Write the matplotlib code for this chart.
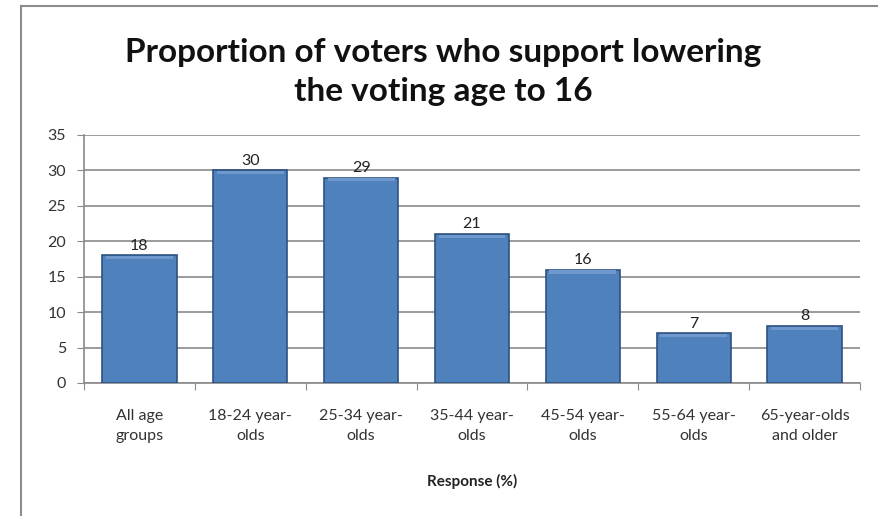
import matplotlib.pyplot as plt
from matplotlib.lines import Line2D

CATEGORIES = [
    "All age\ngroups",
    "18-24 year-\nolds",
    "25-34 year-\nolds",
    "35-44 year-\nolds",
    "45-54 year-\nolds",
    "55-64 year-\nolds",
    "65-year-olds\nand older",
]
VALUES = [18, 30, 29, 21, 16, 7, 8]
Y_TICKS = [0, 5, 10, 15, 20, 25, 30, 35]

TITLE = "Proportion of voters who support lowering\nthe voting age to 16"
XLABEL = "Response (%)"

plt.rcParams["font.family"] = ["Lato", "DejaVu Sans"]

W, H = 879, 516
fig = plt.figure(figsize=(W / 100, H / 100), dpi=100)
fig.patch.set_facecolor("white")

# chart border (left and top only visible)
fig.add_artist(Line2D([21 / W, 21 / W], [0, 1 - 6 / H], color="#8c8c8c", lw=1.5))
fig.add_artist(Line2D([21 / W, 1], [1 - 6 / H, 1 - 6 / H], color="#8c8c8c", lw=1.5))

ax = fig.add_axes([84 / W, 1 - 383 / H, (860 - 84) / W, (383 - 135) / H])

x = range(len(VALUES))
bars = ax.bar(x, VALUES, width=0.67, color="#4F81BD", edgecolor="#2d5182",
              linewidth=1.2, zorder=3)
# lighter bevel on top of each bar
for b in bars:
    ax.bar(b.get_x() + b.get_width() / 2, 0.45, bottom=b.get_height() - 0.55,
           width=b.get_width() * 0.9, color="#6f98cc", linewidth=0, zorder=4)

for xi, v in zip(x, VALUES):
    ax.text(xi, v + 0.4, str(v), ha="center", va="bottom", fontsize=11.5,
            color="#222222")

ax.set_xlim(-0.5, len(VALUES) - 0.5)
ax.set_ylim(0, 35)
ax.set_yticks(Y_TICKS)
ax.yaxis.grid(True, color="#8a8a8a", lw=1.2, zorder=0)
ax.set_axisbelow(True)

ax.set_xticks([i - 0.5 for i in range(len(VALUES) + 1)])
ax.set_xticklabels([])
ax.set_xticks(list(x), minor=True)
ax.set_xticklabels(CATEGORIES, minor=True, fontsize=11.5, color="#333333",
                   linespacing=1.55)
ax.tick_params(axis="x", which="minor", length=0, pad=19)
ax.tick_params(axis="x", which="major", length=5, color="#8a8a8a")
ax.tick_params(axis="y", length=5, color="#8a8a8a", labelsize=11.5,
               labelcolor="#333333", pad=8)

for s in ["top", "right"]:
    ax.spines[s].set_visible(False)
for s in ["left", "bottom"]:
    ax.spines[s].set_color("#8a8a8a")
    ax.spines[s].set_linewidth(1.2)

ax.set_xlabel(XLABEL, fontsize=11, fontweight="bold", labelpad=22,
              color="#222222")

fig.text(443 / W, 1 - 72 / H, TITLE, ha="center", va="center", fontsize=24,
         fontweight="bold", linespacing=1.4, color="#111111")

fig.savefig("out.png", dpi=100)
